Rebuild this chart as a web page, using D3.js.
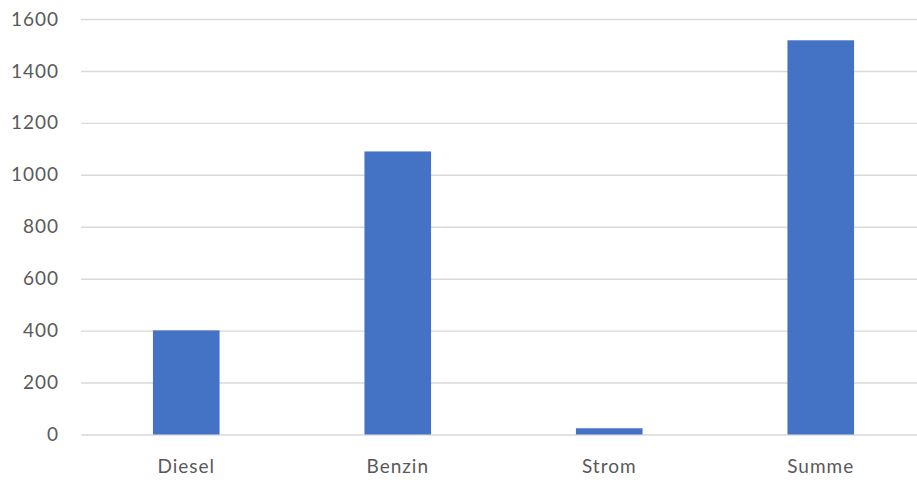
<!DOCTYPE html>
<html><head><meta charset="utf-8">
<script src="https://cdn.jsdelivr.net/npm/d3@7"></script>
<style>body{margin:0;background:#fff}svg{display:block}</style>
</head><body>
<svg id="c" width="917" height="480"></svg>
<script>
const categories = ["Diesel", "Benzin", "Strom", "Summe"];
const values = [401, 1090, 24, 1518];
const yTicks = [0, 200, 400, 600, 800, 1000, 1200, 1400, 1600];

const svg = d3.select("#c");
const x = d3.scaleBand().domain(categories).range([80.5, 926.5]).paddingInner(0.685).paddingOuter(0.3425);
const y = d3.scaleLinear().domain([0, 1600]).range([434.5, 19]);

const yAxis = d3.axisLeft(y).tickValues(yTicks).tickFormat(d3.format("d")).tickSize(-(917 - 81)).tickPadding(22);
const gy = svg.append("g").attr("transform", "translate(81,0)").call(yAxis);
gy.select(".domain").remove();
gy.selectAll(".tick line").attr("stroke", "#d9d9d9").attr("stroke-width", 1.4);
gy.selectAll(".tick text").attr("fill", "#595959").style("font-family", "Lato, 'Open Sans', sans-serif").style("font-size", "19px").style("letter-spacing", "1px");

svg.append("g").selectAll("rect").data(categories).join("rect")
  .attr("x", d => x(d)).attr("width", x.bandwidth())
  .attr("y", (d, i) => y(values[i])).attr("height", (d, i) => y(0) - y(values[i]))
  .attr("fill", "#4472c4");

const xAxis = d3.axisBottom(x).tickSize(0).tickPadding(25);
const gx = svg.append("g").attr("transform", "translate(0,434.5)").call(xAxis);
gx.select(".domain").remove();
gx.selectAll(".tick text").attr("fill", "#595959").style("font-family", "Lato, 'Open Sans', sans-serif").style("font-size", "19px").style("letter-spacing", "1px");
</script>
</body></html>
